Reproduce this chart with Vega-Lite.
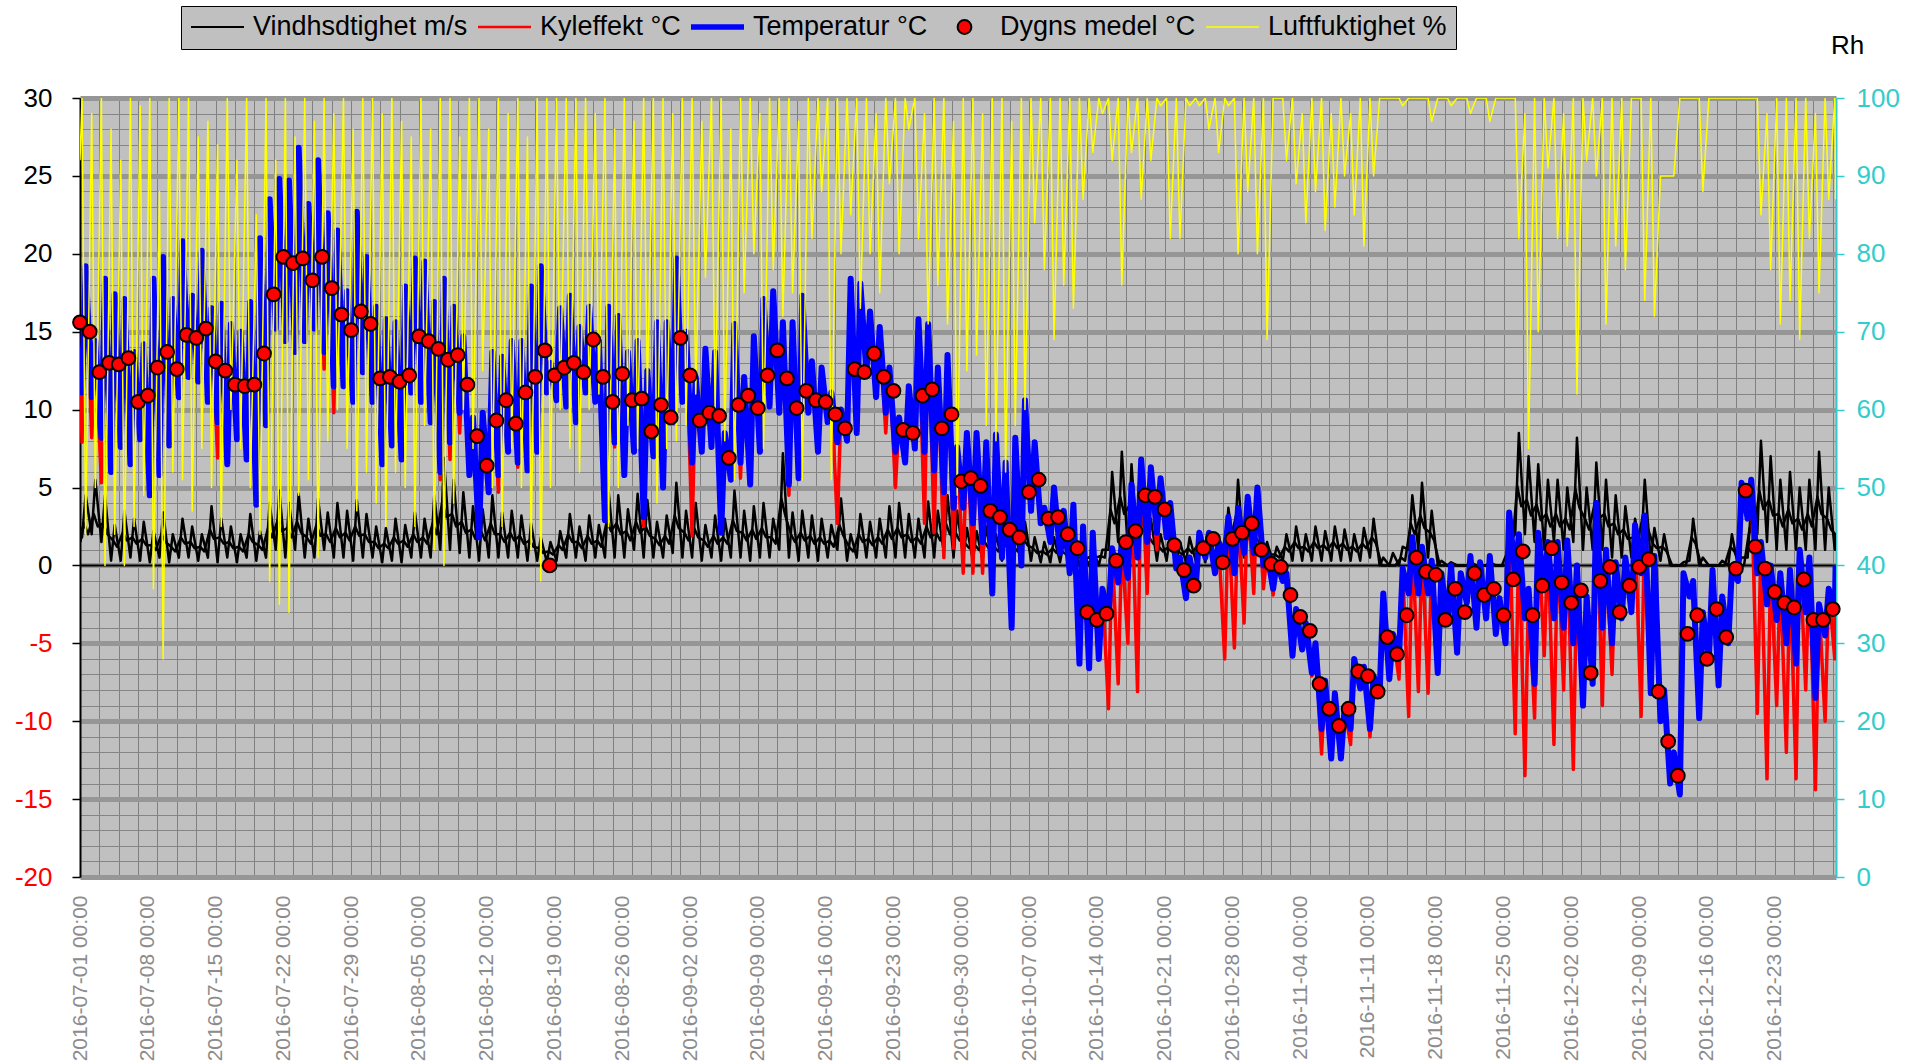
{
"$schema":"https://vega.github.io/schema/vega-lite/v6.json",
"width":1756,"height":779,
"autosize":{"type":"none"},
"padding":{"left":80,"top":98,"right":87,"bottom":186},
"background":"#ffffff",
"config":{"view":{"fill":"#C0C0C0","stroke":null},"font":"Liberation Sans",
"axis":{"labelFont":"Liberation Sans","titleFont":"Liberation Sans"},
"legend":{"direction":"horizontal","columns":5,"fillColor":"#C0C0C0","strokeColor":"#000000","padding":9,"clipHeight":24,"labelFont":"Liberation Sans","labelFontSize":27,"labelColor":"#000000","labelOffset":8,"columnPadding":9,"symbolSize":2809,"symbolStrokeWidth":2,"symbolOpacity":1,"labelLimit":0}},
"datasets":{
"m":[
{"t":"2016070100","T":14,"K":14,"W":2.5,"H":92,"u":"2016070101","V":1.5},
{"t":"2016070105","T":11.1,"K":7.9,"W":1.8,"H":100,"u":"2016070110","V":2.7},{"t":"2016070114","T":19.2,"K":19.2,"W":4.5,"H":44,"u":"2016070120","V":2},
{"t":"2016070205","T":10.8,"K":8.2,"W":2,"H":98,"u":"2016070210","V":3.3},{"t":"2016070214","T":14.4,"K":14.4,"W":5.5,"H":50,"u":"2016070220","V":2.5},
{"t":"2016070305","T":8.2,"K":5.3,"W":1.5,"H":100,"u":"2016070310","V":2.7},{"t":"2016070314","T":18.4,"K":18.4,"W":4.5,"H":40,"u":"2016070320","V":2},
{"t":"2016070405","T":6,"K":6,"W":0.3,"H":96,"u":"2016070410","V":1.6},{"t":"2016070414","T":17.4,"K":17.4,"W":2.6,"H":44,"u":"2016070420","V":1.2},
{"t":"2016070505","T":7.6,"K":7.6,"W":0.3,"H":92,"u":"2016070510","V":2.1},{"t":"2016070514","T":17.1,"K":17.1,"W":3.5,"H":40,"u":"2016070520","V":1.6},
{"t":"2016070605","T":6.5,"K":6.5,"W":0.5,"H":100,"u":"2016070610","V":1.8},{"t":"2016070614","T":13.7,"K":13.7,"W":3,"H":45,"u":"2016070620","V":1.4},
{"t":"2016070705","T":8.1,"K":8.1,"W":0.3,"H":99,"u":"2016070710","V":1.7},{"t":"2016070714","T":14.2,"K":14.2,"W":2.8,"H":49,"u":"2016070720","V":1.3},
{"t":"2016070805","T":4.5,"K":4.5,"W":0.2,"H":100,"u":"2016070810","V":1.3},{"t":"2016070814","T":18.4,"K":18.4,"W":2.2,"H":37,"u":"2016070820","V":1},
{"t":"2016070905","T":5.8,"K":5.8,"W":0.5,"H":88,"u":"2016070910","V":2},{"t":"2016070914","T":19.8,"K":19.8,"W":3.4,"H":28,"u":"2016070920","V":1.5},
{"t":"2016071005","T":7.7,"K":7.7,"W":0.2,"H":100,"u":"2016071010","V":1.2},{"t":"2016071014","T":17.1,"K":17.1,"W":2,"H":52,"u":"2016071020","V":0.9},
{"t":"2016071105","T":10.8,"K":10.8,"W":0.5,"H":100,"u":"2016071110","V":1.8},{"t":"2016071114","T":20.8,"K":20.8,"W":3,"H":51,"u":"2016071120","V":1.4},
{"t":"2016071205","T":12.1,"K":12.1,"W":0.5,"H":100,"u":"2016071210","V":1.5},{"t":"2016071214","T":17.3,"K":17.3,"W":2.5,"H":47,"u":"2016071220","V":1.1},
{"t":"2016071305","T":11.8,"K":11.8,"W":0.3,"H":95,"u":"2016071310","V":1.2},{"t":"2016071314","T":20.2,"K":20.2,"W":2,"H":55,"u":"2016071320","V":0.9},
{"t":"2016071405","T":10.5,"K":10.5,"W":0.5,"H":97,"u":"2016071410","V":2.3},{"t":"2016071414","T":16.5,"K":16.5,"W":3.8,"H":50,"u":"2016071420","V":1.7},
{"t":"2016071505","T":9.2,"K":6.9,"W":0.2,"H":94,"u":"2016071510","V":1.8},{"t":"2016071514","T":16.8,"K":16.8,"W":3,"H":45,"u":"2016071520","V":1.4},
{"t":"2016071605","T":6.5,"K":6.5,"W":0.5,"H":100,"u":"2016071610","V":1.5},{"t":"2016071614","T":15.5,"K":15.5,"W":2.5,"H":60,"u":"2016071620","V":1.1},
{"t":"2016071705","T":8.1,"K":8.1,"W":0.2,"H":92,"u":"2016071710","V":1.2},{"t":"2016071714","T":15,"K":15,"W":2,"H":55,"u":"2016071720","V":0.9},
{"t":"2016071805","T":6.8,"K":6.8,"W":0.5,"H":100,"u":"2016071810","V":2},{"t":"2016071814","T":16.9,"K":16.9,"W":3.3,"H":50,"u":"2016071820","V":1.5},
{"t":"2016071905","T":3.9,"K":3.9,"W":0.3,"H":85,"u":"2016071910","V":1.3},{"t":"2016071914","T":21,"K":21,"W":2.2,"H":44,"u":"2016071920","V":1},
{"t":"2016072005","T":9,"K":9,"W":0.5,"H":100,"u":"2016072010","V":2.4},{"t":"2016072014","T":23.5,"K":23.5,"W":4,"H":38,"u":"2016072020","V":1.8},
{"t":"2016072105","T":15.2,"K":15.2,"W":1,"H":92,"u":"2016072110","V":2.9},{"t":"2016072114","T":24.8,"K":24.8,"W":4.8,"H":35,"u":"2016072120","V":2.2},
{"t":"2016072205","T":14.4,"K":14.4,"W":0.5,"H":100,"u":"2016072210","V":2.4},{"t":"2016072214","T":24.7,"K":24.7,"W":4,"H":34,"u":"2016072220","V":1.8},
{"t":"2016072305","T":13.7,"K":13.7,"W":1,"H":95,"u":"2016072310","V":2.8},{"t":"2016072314","T":26.8,"K":26.8,"W":4.6,"H":49,"u":"2016072320","V":2.1},
{"t":"2016072405","T":14.4,"K":14.4,"W":0.5,"H":100,"u":"2016072410","V":1.8},{"t":"2016072414","T":23.2,"K":23.2,"W":3,"H":51,"u":"2016072420","V":1.4},
{"t":"2016072505","T":15.2,"K":15.2,"W":0.5,"H":97,"u":"2016072510","V":2.6},{"t":"2016072514","T":26,"K":26,"W":4.3,"H":41,"u":"2016072520","V":1.9},
{"t":"2016072605","T":13.7,"K":12.6,"W":1,"H":100,"u":"2016072610","V":2},{"t":"2016072614","T":22.6,"K":22.6,"W":3.4,"H":56,"u":"2016072620","V":1.5},
{"t":"2016072705","T":11.5,"K":9.8,"W":0.5,"H":98,"u":"2016072710","V":2.4},{"t":"2016072714","T":21.5,"K":21.5,"W":4,"H":60,"u":"2016072720","V":1.8},
{"t":"2016072805","T":11.5,"K":11.5,"W":0.5,"H":100,"u":"2016072810","V":2.1},{"t":"2016072814","T":17.6,"K":17.6,"W":3.5,"H":55,"u":"2016072820","V":1.6},
{"t":"2016072905","T":10.5,"K":10.5,"W":0.3,"H":96,"u":"2016072910","V":2.5},{"t":"2016072914","T":22.7,"K":22.7,"W":4.2,"H":47,"u":"2016072920","V":1.9},
{"t":"2016073005","T":12.4,"K":12.4,"W":0.5,"H":100,"u":"2016073010","V":2},{"t":"2016073014","T":19.8,"K":19.8,"W":3.3,"H":52,"u":"2016073020","V":1.5},
{"t":"2016073105","T":10.5,"K":10.5,"W":0.5,"H":100,"u":"2016073110","V":1.5},{"t":"2016073114","T":16.6,"K":16.6,"W":2.5,"H":48,"u":"2016073120","V":1.1},
{"t":"2016080105","T":6.5,"K":6.5,"W":0.2,"H":98,"u":"2016080110","V":1.4},{"t":"2016080114","T":15.8,"K":15.8,"W":2.4,"H":45,"u":"2016080120","V":1.1},
{"t":"2016080205","T":7.7,"K":7.7,"W":0.3,"H":100,"u":"2016080210","V":1.8},{"t":"2016080214","T":15.6,"K":15.6,"W":3,"H":52,"u":"2016080220","V":1.4},
{"t":"2016080305","T":6.8,"K":6.8,"W":0.2,"H":97,"u":"2016080310","V":1.6},{"t":"2016080314","T":17.9,"K":17.9,"W":2.6,"H":50,"u":"2016080320","V":1.2},
{"t":"2016080405","T":11.1,"K":11.1,"W":0.5,"H":95,"u":"2016080410","V":2},{"t":"2016080414","T":19.7,"K":19.7,"W":3.4,"H":45,"u":"2016080420","V":1.5},
{"t":"2016080505","T":10.5,"K":10.5,"W":0.5,"H":100,"u":"2016080510","V":1.8},{"t":"2016080514","T":19.5,"K":19.5,"W":3,"H":58,"u":"2016080520","V":1.4},
{"t":"2016080605","T":9.2,"K":9.2,"W":0.5,"H":96,"u":"2016080610","V":2.7},{"t":"2016080614","T":16.9,"K":16.9,"W":4.5,"H":42,"u":"2016080620","V":2},
{"t":"2016080705","T":6,"K":5.5,"W":1,"H":100,"u":"2016080710","V":4.1},{"t":"2016080714","T":18.4,"K":18.4,"W":6.9,"H":40,"u":"2016080720","V":3.1},
{"t":"2016080805","T":7.9,"K":6.8,"W":1,"H":100,"u":"2016080810","V":3.3},{"t":"2016080814","T":16.6,"K":16.6,"W":5.5,"H":48,"u":"2016080820","V":2.5},
{"t":"2016080905","T":9.8,"K":8.5,"W":0.8,"H":95,"u":"2016080910","V":2.8},{"t":"2016080914","T":14.7,"K":14.7,"W":4.7,"H":60,"u":"2016080920","V":2.1},
{"t":"2016081005","T":5.8,"K":5.8,"W":0.5,"H":100,"u":"2016081010","V":2.3},{"t":"2016081014","T":9.5,"K":9.5,"W":3.8,"H":55,"u":"2016081020","V":1.7},
{"t":"2016081105","T":1.8,"K":1.8,"W":0.3,"H":100,"u":"2016081110","V":2.2},{"t":"2016081114","T":9.8,"K":9.8,"W":3.6,"H":65,"u":"2016081120","V":1.6},
{"t":"2016081205","T":4.7,"K":4.7,"W":0.5,"H":96,"u":"2016081210","V":2.7},{"t":"2016081214","T":13.7,"K":13.7,"W":4.5,"H":50,"u":"2016081220","V":2},
{"t":"2016081305","T":5.8,"K":4.7,"W":0.5,"H":100,"u":"2016081310","V":2},{"t":"2016081314","T":13.4,"K":13.4,"W":3.4,"H":45,"u":"2016081320","V":1.5},
{"t":"2016081405","T":7.3,"K":7.3,"W":0.5,"H":98,"u":"2016081410","V":2.1},{"t":"2016081414","T":14.4,"K":14.4,"W":3.5,"H":55,"u":"2016081420","V":1.6},
{"t":"2016081505","T":6.6,"K":6.3,"W":0.5,"H":100,"u":"2016081510","V":1.9},{"t":"2016081514","T":14.4,"K":14.4,"W":3.2,"H":50,"u":"2016081520","V":1.4},
{"t":"2016081605","T":6.1,"K":6.1,"W":0.3,"H":95,"u":"2016081610","V":1.6},{"t":"2016081614","T":17.9,"K":17.9,"W":2.7,"H":42,"u":"2016081620","V":1.2},
{"t":"2016081705","T":7.3,"K":7.3,"W":0.3,"H":100,"u":"2016081710","V":1.1},{"t":"2016081714","T":19.2,"K":19.2,"W":1.8,"H":38,"u":"2016081720","V":0.8},
{"t":"2016081805","T":11.1,"K":11.1,"W":0.2,"H":100,"u":"2016081810","V":0.9},{"t":"2016081814","T":13,"K":13,"W":1.5,"H":50,"u":"2016081820","V":0.7},
{"t":"2016081905","T":10.6,"K":10.6,"W":0.3,"H":100,"u":"2016081910","V":1.3},{"t":"2016081914","T":16.5,"K":16.5,"W":2.2,"H":60,"u":"2016081920","V":1},
{"t":"2016082005","T":10.2,"K":10.2,"W":0.5,"H":100,"u":"2016082010","V":2},{"t":"2016082014","T":17.3,"K":17.3,"W":3.3,"H":55,"u":"2016082020","V":1.5},
{"t":"2016082105","T":9.2,"K":9.2,"W":0.5,"H":100,"u":"2016082110","V":1.5},{"t":"2016082114","T":15.3,"K":15.3,"W":2.5,"H":52,"u":"2016082120","V":1.1},
{"t":"2016082205","T":11.1,"K":11.1,"W":0.3,"H":100,"u":"2016082210","V":1.9},{"t":"2016082214","T":16.6,"K":16.6,"W":3.2,"H":60,"u":"2016082220","V":1.4},
{"t":"2016082305","T":10.5,"K":10.5,"W":0.5,"H":98,"u":"2016082310","V":1.6},{"t":"2016082314","T":14.4,"K":14.4,"W":2.6,"H":62,"u":"2016082320","V":1.2},
{"t":"2016082405","T":2.9,"K":2.9,"W":0.5,"H":100,"u":"2016082410","V":2.9},{"t":"2016082414","T":16.6,"K":16.6,"W":4.8,"H":45,"u":"2016082420","V":2.2},
{"t":"2016082505","T":7.9,"K":7.6,"W":0.5,"H":96,"u":"2016082510","V":2.7},{"t":"2016082514","T":16,"K":16,"W":4.5,"H":50,"u":"2016082520","V":2},
{"t":"2016082605","T":5.8,"K":5.8,"W":0.5,"H":100,"u":"2016082610","V":2.2},{"t":"2016082614","T":13.7,"K":13.7,"W":3.6,"H":58,"u":"2016082620","V":1.6},
{"t":"2016082705","T":7.3,"K":7.3,"W":1,"H":97,"u":"2016082710","V":2.8},{"t":"2016082714","T":14.4,"K":14.4,"W":4.6,"H":55,"u":"2016082720","V":2.1},
{"t":"2016082805","T":3.1,"K":2.5,"W":0.5,"H":100,"u":"2016082810","V":2.5},{"t":"2016082814","T":12.5,"K":12.5,"W":4.2,"H":62,"u":"2016082820","V":1.9},
{"t":"2016082905","T":7,"K":7,"W":0.5,"H":100,"u":"2016082910","V":1.7},{"t":"2016082914","T":15.6,"K":15.6,"W":2.8,"H":48,"u":"2016082920","V":1.3},
{"t":"2016083005","T":5,"K":5,"W":0.5,"H":100,"u":"2016083010","V":1.9},{"t":"2016083014","T":15.6,"K":15.6,"W":3.2,"H":55,"u":"2016083020","V":1.4},
{"t":"2016083105","T":9.2,"K":9.2,"W":0.8,"H":98,"u":"2016083110","V":3.2},{"t":"2016083114","T":19.7,"K":19.7,"W":5.3,"H":56,"u":"2016083120","V":2.4},
{"t":"2016090105","T":10.5,"K":10.5,"W":0.5,"H":100,"u":"2016090110","V":2.1},{"t":"2016090114","T":15,"K":15,"W":3.5,"H":58,"u":"2016090120","V":1.6},
{"t":"2016090205","T":6.6,"K":1.9,"W":0.5,"H":100,"u":"2016090210","V":2.4},{"t":"2016090214","T":12.1,"K":12.1,"W":4,"H":62,"u":"2016090220","V":1.8},
{"t":"2016090305","T":7.3,"K":7.3,"W":0.3,"H":97,"u":"2016090310","V":1.6},{"t":"2016090314","T":13.9,"K":13.9,"W":2.6,"H":77,"u":"2016090320","V":1.2},
{"t":"2016090405","T":7.6,"K":7.6,"W":0.5,"H":100,"u":"2016090410","V":1.9},{"t":"2016090414","T":13.7,"K":13.7,"W":3.2,"H":60,"u":"2016090420","V":1.4},
{"t":"2016090505","T":2.1,"K":2.1,"W":0.3,"H":100,"u":"2016090510","V":1.8},{"t":"2016090514","T":8.5,"K":8.5,"W":3,"H":56,"u":"2016090520","V":1.4},
{"t":"2016090605","T":5.5,"K":5.5,"W":0.5,"H":96,"u":"2016090610","V":2.9},{"t":"2016090614","T":15.5,"K":15.5,"W":4.8,"H":51,"u":"2016090620","V":2.2},
{"t":"2016090705","T":6.6,"K":5.6,"W":0.5,"H":100,"u":"2016090710","V":2.1},{"t":"2016090714","T":12.1,"K":12.1,"W":3.5,"H":75,"u":"2016090720","V":1.6},
{"t":"2016090805","T":5.2,"K":5.2,"W":0.3,"H":100,"u":"2016090810","V":2.3},{"t":"2016090814","T":14.7,"K":14.7,"W":3.8,"H":80,"u":"2016090820","V":1.7},
{"t":"2016090905","T":7.3,"K":7.3,"W":0.5,"H":98,"u":"2016090910","V":2.4},{"t":"2016090914","T":17.1,"K":17.1,"W":4,"H":55,"u":"2016090920","V":1.8},
{"t":"2016091005","T":10.2,"K":10.2,"W":0.5,"H":100,"u":"2016091010","V":1.8},{"t":"2016091014","T":17.6,"K":17.6,"W":3,"H":78,"u":"2016091020","V":1.4},
{"t":"2016091105","T":9.8,"K":9.8,"W":1,"H":100,"u":"2016091110","V":4.3},{"t":"2016091114","T":15.6,"K":15.6,"W":7.2,"H":72,"u":"2016091120","V":3.2},
{"t":"2016091205","T":5.2,"K":4.5,"W":0.5,"H":100,"u":"2016091210","V":2},{"t":"2016091214","T":15.6,"K":15.6,"W":3.4,"H":75,"u":"2016091220","V":1.5},
{"t":"2016091305","T":5.6,"K":5.6,"W":0.3,"H":97,"u":"2016091310","V":2.1},{"t":"2016091314","T":17.3,"K":17.3,"W":3.5,"H":51,"u":"2016091320","V":1.6},
{"t":"2016091405","T":9.8,"K":9.8,"W":0.5,"H":100,"u":"2016091410","V":1.9},{"t":"2016091414","T":13.1,"K":13.1,"W":3.2,"H":82,"u":"2016091420","V":1.4},
{"t":"2016091505","T":7.3,"K":7.3,"W":0.3,"H":100,"u":"2016091510","V":1.8},{"t":"2016091514","T":12.7,"K":12.7,"W":3,"H":88,"u":"2016091520","V":1.4},
{"t":"2016091605","T":9.2,"K":9.2,"W":0.5,"H":100,"u":"2016091610","V":1.6},{"t":"2016091614","T":11.1,"K":11.1,"W":2.6,"H":51,"u":"2016091620","V":1.2},
{"t":"2016091705","T":7.9,"K":2.7,"W":1,"H":100,"u":"2016091710","V":2.6},{"t":"2016091714","T":10,"K":10,"W":4.3,"H":80,"u":"2016091720","V":1.9},
{"t":"2016091805","T":8,"K":8,"W":0.3,"H":100,"u":"2016091810","V":1.2},{"t":"2016091814","T":18.4,"K":18.4,"W":2,"H":85,"u":"2016091820","V":0.9},
{"t":"2016091905","T":8.5,"K":8.5,"W":0.5,"H":100,"u":"2016091910","V":2},{"t":"2016091914","T":18.1,"K":18.1,"W":3.3,"H":73,"u":"2016091920","V":1.5},
{"t":"2016092005","T":12.4,"K":12.4,"W":0.5,"H":100,"u":"2016092010","V":1.7},{"t":"2016092014","T":16.3,"K":16.3,"W":2.8,"H":80,"u":"2016092020","V":1.3},
{"t":"2016092105","T":10.8,"K":10.8,"W":0.5,"H":98,"u":"2016092110","V":1.8},{"t":"2016092114","T":15.3,"K":15.3,"W":3,"H":75,"u":"2016092120","V":1.4},
{"t":"2016092205","T":9.8,"K":8.5,"W":0.5,"H":100,"u":"2016092210","V":2.3},{"t":"2016092214","T":12.7,"K":12.7,"W":3.8,"H":89,"u":"2016092220","V":1.7},
{"t":"2016092305","T":7.3,"K":5,"W":0.5,"H":100,"u":"2016092310","V":2.4},{"t":"2016092314","T":9.5,"K":9.5,"W":4,"H":80,"u":"2016092320","V":1.8},
{"t":"2016092405","T":6.6,"K":6.6,"W":0.5,"H":100,"u":"2016092410","V":2},{"t":"2016092414","T":11.5,"K":11.5,"W":3.3,"H":96,"u":"2016092420","V":1.5},
{"t":"2016092505","T":7.5,"K":7.5,"W":0.5,"H":100,"u":"2016092510","V":1.8},{"t":"2016092514","T":15.8,"K":15.8,"W":3,"H":82,"u":"2016092520","V":1.4},
{"t":"2016092605","T":7.3,"K":2.7,"W":0.5,"H":98,"u":"2016092610","V":2.5},{"t":"2016092614","T":15.5,"K":15.5,"W":4.1,"H":71,"u":"2016092620","V":1.8},
{"t":"2016092705","T":6.1,"K":2.1,"W":0.5,"H":100,"u":"2016092710","V":2.1},{"t":"2016092714","T":12.7,"K":12.7,"W":3.5,"H":76,"u":"2016092720","V":1.6},
{"t":"2016092805","T":4.7,"K":0.5,"W":0.8,"H":100,"u":"2016092810","V":2.7},{"t":"2016092814","T":13.5,"K":13.5,"W":4.5,"H":71,"u":"2016092820","V":2},
{"t":"2016092905","T":3.7,"K":1.1,"W":0.5,"H":97,"u":"2016092910","V":2.1},{"t":"2016092914","T":7.6,"K":7.6,"W":3.5,"H":49,"u":"2016092920","V":1.6},
{"t":"2016093005","T":3.7,"K":-0.5,"W":0.5,"H":100,"u":"2016093010","V":1.4},{"t":"2016093014","T":8.5,"K":8.5,"W":2.4,"H":65,"u":"2016093020","V":1.1},
{"t":"2016100105","T":2.7,"K":-0.5,"W":0.3,"H":100,"u":"2016100110","V":1.3},{"t":"2016100114","T":8.5,"K":8.5,"W":2.2,"H":67,"u":"2016100120","V":1},
{"t":"2016100205","T":1.5,"K":-0.5,"W":0.3,"H":98,"u":"2016100210","V":1.5},{"t":"2016100214","T":7.9,"K":7.9,"W":2.5,"H":58,"u":"2016100220","V":1.1},
{"t":"2016100305","T":-1.8,"K":-1.8,"W":0.3,"H":100,"u":"2016100310","V":1.2},{"t":"2016100314","T":8.4,"K":8.4,"W":2,"H":56,"u":"2016100320","V":0.9},
{"t":"2016100405","T":0.5,"K":0.5,"W":0.3,"H":100,"u":"2016100410","V":1.4},{"t":"2016100414","T":6.6,"K":6.6,"W":2.4,"H":52,"u":"2016100420","V":1.1},
{"t":"2016100505","T":-4,"K":-4,"W":0.2,"H":97,"u":"2016100510","V":1.2},{"t":"2016100514","T":8.2,"K":8.2,"W":2,"H":58,"u":"2016100520","V":0.9},
{"t":"2016100605","T":0,"K":0,"W":0.3,"H":100,"u":"2016100610","V":1.7},{"t":"2016100614","T":10.6,"K":10.6,"W":2.8,"H":60,"u":"2016100620","V":1.3},
{"t":"2016100705","T":3.5,"K":3.5,"W":0.3,"H":100,"u":"2016100710","V":1.1},{"t":"2016100714","T":7.9,"K":7.9,"W":1.8,"H":84,"u":"2016100720","V":0.8},
{"t":"2016100805","T":2.7,"K":2.7,"W":0.2,"H":100,"u":"2016100810","V":0.9},{"t":"2016100814","T":3.7,"K":3.7,"W":1.5,"H":78,"u":"2016100820","V":0.7},
{"t":"2016100905","T":1.5,"K":1.5,"W":0.2,"H":100,"u":"2016100910","V":1.1},{"t":"2016100914","T":5,"K":5,"W":1.8,"H":69,"u":"2016100920","V":0.8},
{"t":"2016101005","T":0.8,"K":0.8,"W":0.2,"H":100,"u":"2016101010","V":0.9},{"t":"2016101014","T":3.5,"K":3.5,"W":1.5,"H":76,"u":"2016101020","V":0.7},
{"t":"2016101105","T":-0.5,"K":-0.5,"W":0.2,"H":100,"u":"2016101110","V":0.7},{"t":"2016101114","T":3.9,"K":3.9,"W":1.2,"H":73,"u":"2016101120","V":0.5},
{"t":"2016101205","T":-6.3,"K":-6.3,"W":0,"H":100,"u":"2016101210","V":0.5},{"t":"2016101214","T":2.5,"K":2.5,"W":0.8,"H":87,"u":"2016101220","V":0.4},
{"t":"2016101305","T":-6.6,"K":-6.6,"W":0,"H":100,"u":"2016101310","V":0.6},{"t":"2016101314","T":2.1,"K":2.1,"W":1,"H":93,"u":"2016101320","V":0.5},
{"t":"2016101405","T":-6,"K":-6,"W":0,"H":100,"u":"2016101410","V":0.6},{"t":"2016101414","T":-1.5,"K":-1.5,"W":1,"H":98,"u":"2016101420","V":0.5},
{"t":"2016101505","T":-3.3,"K":-9.2,"W":1,"H":100,"u":"2016101510","V":3.6},{"t":"2016101514","T":1.1,"K":1.1,"W":6,"H":92,"u":"2016101520","V":2.7},
{"t":"2016101605","T":-1.1,"K":-7.6,"W":1.5,"H":100,"u":"2016101610","V":4.4},{"t":"2016101614","T":1.5,"K":1.5,"W":7.3,"H":76,"u":"2016101620","V":3.3},
{"t":"2016101705","T":-0.8,"K":-5,"W":1,"H":100,"u":"2016101710","V":3.9},{"t":"2016101714","T":5.2,"K":5.2,"W":6.5,"H":93,"u":"2016101720","V":2.9},
{"t":"2016101805","T":0.5,"K":-8.1,"W":1,"H":100,"u":"2016101810","V":3.3},{"t":"2016101814","T":6.8,"K":6.8,"W":5.5,"H":87,"u":"2016101820","V":2.5},
{"t":"2016101905","T":1.5,"K":-1.8,"W":0.5,"H":100,"u":"2016101910","V":1.8},{"t":"2016101914","T":6.3,"K":6.3,"W":3,"H":92,"u":"2016101920","V":1.4},
{"t":"2016102005","T":2.1,"K":1,"W":0.3,"H":100,"u":"2016102010","V":1.2},{"t":"2016102014","T":5.6,"K":5.6,"W":2,"H":99,"u":"2016102020","V":0.9},
{"t":"2016102105","T":1.8,"K":1.8,"W":0.3,"H":100,"u":"2016102110","V":1.2},{"t":"2016102114","T":4,"K":4,"W":2,"H":82,"u":"2016102120","V":0.9},
{"t":"2016102205","T":-0.2,"K":-0.2,"W":0.2,"H":100,"u":"2016102210","V":0.9},{"t":"2016102214","T":0.5,"K":0.5,"W":1.5,"H":82,"u":"2016102220","V":0.7},
{"t":"2016102305","T":-2.1,"K":-2.1,"W":0.2,"H":100,"u":"2016102310","V":1.1},{"t":"2016102314","T":0.5,"K":0.5,"W":1.8,"H":99,"u":"2016102320","V":0.8},
{"t":"2016102405","T":-1.5,"K":-1.5,"W":0.3,"H":100,"u":"2016102410","V":1.3},{"t":"2016102414","T":2.1,"K":2.1,"W":2.2,"H":99,"u":"2016102420","V":1},
{"t":"2016102505","T":0.5,"K":0.5,"W":0.2,"H":100,"u":"2016102510","V":1.1},{"t":"2016102514","T":2.1,"K":2.1,"W":1.8,"H":96,"u":"2016102520","V":0.8},
{"t":"2016102605","T":-0.5,"K":-0.5,"W":0.2,"H":100,"u":"2016102610","V":0.9},{"t":"2016102614","T":1.5,"K":1.5,"W":1.5,"H":93,"u":"2016102620","V":0.7},
{"t":"2016102705","T":0.5,"K":-6,"W":0.5,"H":100,"u":"2016102710","V":2.2},{"t":"2016102714","T":3.1,"K":3.1,"W":3.7,"H":99,"u":"2016102720","V":1.7},
{"t":"2016102805","T":-0.5,"K":-5.3,"W":1,"H":100,"u":"2016102810","V":3.3},{"t":"2016102814","T":3.7,"K":3.7,"W":5.5,"H":80,"u":"2016102820","V":2.5},
{"t":"2016102905","T":0.8,"K":-3.7,"W":0.5,"H":100,"u":"2016102910","V":2.1},{"t":"2016102914","T":4.4,"K":4.4,"W":3.5,"H":88,"u":"2016102920","V":1.6},
{"t":"2016103005","T":0.8,"K":-1.8,"W":0.5,"H":100,"u":"2016103010","V":1.8},{"t":"2016103014","T":5,"K":5,"W":3,"H":80,"u":"2016103020","V":1.4},
{"t":"2016103105","T":0,"K":-1.5,"W":0.5,"H":100,"u":"2016103110","V":0.9},{"t":"2016103114","T":0.8,"K":0.8,"W":1.5,"H":69,"u":"2016103120","V":0.7},
{"t":"2016110105","T":-1.5,"K":-1.9,"W":0.2,"H":100,"u":"2016110110","V":0.7},{"t":"2016110114","T":0.2,"K":0.2,"W":1.2,"H":100,"u":"2016110120","V":0.5},
{"t":"2016110205","T":-1,"K":-1,"W":0.3,"H":100,"u":"2016110210","V":1.2},{"t":"2016110214","T":-0.5,"K":-0.5,"W":2,"H":92,"u":"2016110220","V":0.9},
{"t":"2016110305","T":-5.8,"K":-5.8,"W":0.3,"H":100,"u":"2016110310","V":1.5},{"t":"2016110314","T":-2.8,"K":-2.8,"W":2.5,"H":89,"u":"2016110320","V":1.1},
{"t":"2016110405","T":-5.4,"K":-5.4,"W":0.3,"H":98,"u":"2016110410","V":1.2},{"t":"2016110414","T":-3.7,"K":-3.7,"W":2,"H":84,"u":"2016110420","V":0.9},
{"t":"2016110505","T":-6.9,"K":-7.1,"W":0.3,"H":100,"u":"2016110510","V":1.5},{"t":"2016110514","T":-5,"K":-5,"W":2.5,"H":88,"u":"2016110520","V":1.1},
{"t":"2016110605","T":-10.5,"K":-12.1,"W":0.3,"H":100,"u":"2016110610","V":1.3},{"t":"2016110614","T":-7.4,"K":-7.4,"W":2.2,"H":83,"u":"2016110620","V":1},
{"t":"2016110705","T":-12.4,"K":-12.4,"W":0.3,"H":98,"u":"2016110710","V":1.5},{"t":"2016110714","T":-8.2,"K":-8.2,"W":2.5,"H":86,"u":"2016110720","V":1.1},
{"t":"2016110805","T":-12.4,"K":-12.4,"W":0.3,"H":100,"u":"2016110810","V":1.4},{"t":"2016110814","T":-9.2,"K":-9.2,"W":2.3,"H":90,"u":"2016110820","V":1},
{"t":"2016110905","T":-10.5,"K":-11.5,"W":0.3,"H":98,"u":"2016110910","V":1.2},{"t":"2016110914","T":-6,"K":-6,"W":2,"H":85,"u":"2016110920","V":0.9},
{"t":"2016111005","T":-7.9,"K":-7.9,"W":0.3,"H":100,"u":"2016111010","V":1.4},{"t":"2016111014","T":-6.5,"K":-6.5,"W":2.4,"H":81,"u":"2016111020","V":1.1},
{"t":"2016111105","T":-10.5,"K":-11,"W":0.5,"H":100,"u":"2016111110","V":1.8},{"t":"2016111114","T":-7.1,"K":-7.1,"W":3,"H":90,"u":"2016111120","V":1.4},
{"t":"2016111205","T":-8.2,"K":-8.2,"W":0,"H":100,"u":"2016111210","V":0},{"t":"2016111214","T":-1.8,"K":-1.8,"W":0.5,"H":100,"u":"2016111220","V":0},
{"t":"2016111305","T":-7.3,"K":-7.3,"W":0,"H":100,"u":"2016111310","V":0},{"t":"2016111314","T":-4.4,"K":-4.4,"W":0.8,"H":100,"u":"2016111320","V":0},
{"t":"2016111405","T":-5.8,"K":-7.3,"W":0,"H":100,"u":"2016111410","V":0.5},{"t":"2016111414","T":-0.2,"K":-0.2,"W":1.2,"H":99,"u":"2016111420","V":0.3},
{"t":"2016111505","T":-1.8,"K":-9.7,"W":1,"H":100,"u":"2016111510","V":2.7},{"t":"2016111514","T":1.8,"K":1.8,"W":4.5,"H":100,"u":"2016111520","V":2},
{"t":"2016111605","T":-1.8,"K":-8.1,"W":1,"H":100,"u":"2016111610","V":3.2},{"t":"2016111614","T":1.2,"K":1.2,"W":5.3,"H":100,"u":"2016111620","V":2.4},
{"t":"2016111705","T":-1.8,"K":-8.2,"W":0.5,"H":100,"u":"2016111710","V":2.1},{"t":"2016111714","T":0.3,"K":0.3,"W":3.5,"H":97,"u":"2016111720","V":1.6},
{"t":"2016111805","T":-6.9,"K":-6.9,"W":0,"H":100,"u":"2016111810","V":0},{"t":"2016111814","T":-0.5,"K":-0.5,"W":0.3,"H":100,"u":"2016111820","V":0},
{"t":"2016111905","T":-3.7,"K":-3.7,"W":0,"H":100,"u":"2016111910","V":0},{"t":"2016111914","T":0,"K":0,"W":0.2,"H":99,"u":"2016111920","V":0},
{"t":"2016112005","T":-5.6,"K":-5.6,"W":0,"H":100,"u":"2016112010","V":0},{"t":"2016112014","T":-0.5,"K":-0.5,"W":0,"H":100,"u":"2016112020","V":0},
{"t":"2016112105","T":-2.4,"K":-2.4,"W":0,"H":100,"u":"2016112110","V":0},{"t":"2016112114","T":0.6,"K":0.6,"W":0.2,"H":98,"u":"2016112120","V":0},
{"t":"2016112205","T":-4,"K":-4,"W":0,"H":100,"u":"2016112210","V":0},{"t":"2016112214","T":0.2,"K":0.2,"W":0,"H":100,"u":"2016112220","V":0},
{"t":"2016112305","T":-3.4,"K":-3.4,"W":0,"H":100,"u":"2016112310","V":0},{"t":"2016112314","T":0.6,"K":0.6,"W":0.2,"H":97,"u":"2016112320","V":0},
{"t":"2016112405","T":-4.4,"K":-4.4,"W":0,"H":100,"u":"2016112410","V":0},{"t":"2016112414","T":-2.1,"K":-2.1,"W":0,"H":100,"u":"2016112420","V":0},
{"t":"2016112505","T":-5,"K":-5,"W":0,"H":100,"u":"2016112510","V":0.9},{"t":"2016112514","T":3.4,"K":3.4,"W":1.5,"H":100,"u":"2016112520","V":0.7},
{"t":"2016112605","T":-0.6,"K":-10.8,"W":2,"H":100,"u":"2016112610","V":5.1},{"t":"2016112614","T":2,"K":2,"W":8.5,"H":82,"u":"2016112620","V":3.8},
{"t":"2016112705","T":-3.4,"K":-13.5,"W":2,"H":98,"u":"2016112710","V":4.2},{"t":"2016112714","T":-1.5,"K":-1.5,"W":7,"H":55,"u":"2016112720","V":3.2},
{"t":"2016112805","T":-7.6,"K":-9.8,"W":1.5,"H":100,"u":"2016112810","V":3.9},{"t":"2016112814","T":2.1,"K":2.1,"W":6.5,"H":70,"u":"2016112820","V":2.9},
{"t":"2016112905","T":-1.5,"K":-5.8,"W":1,"H":100,"u":"2016112910","V":3.3},{"t":"2016112914","T":1.5,"K":1.5,"W":5.5,"H":91,"u":"2016112920","V":2.5},
{"t":"2016113005","T":-3.4,"K":-11.5,"W":1.5,"H":100,"u":"2016113010","V":3.3},{"t":"2016113014","T":1.5,"K":1.5,"W":5.5,"H":82,"u":"2016113020","V":2.5},
{"t":"2016120105","T":-4,"K":-8,"W":1,"H":98,"u":"2016120110","V":3},{"t":"2016120114","T":1.6,"K":1.6,"W":5,"H":81,"u":"2016120120","V":2.3},
{"t":"2016120205","T":-5,"K":-13.1,"W":1.5,"H":100,"u":"2016120210","V":4.9},{"t":"2016120214","T":0,"K":0,"W":8.2,"H":62,"u":"2016120220","V":3.7},
{"t":"2016120305","T":-9,"K":-9,"W":1,"H":100,"u":"2016120310","V":3},{"t":"2016120314","T":-2,"K":-2,"W":5,"H":92,"u":"2016120320","V":2.3},
{"t":"2016120405","T":-7.6,"K":-7.6,"W":1,"H":100,"u":"2016120410","V":4},{"t":"2016120414","T":4,"K":4,"W":6.6,"H":90,"u":"2016120420","V":3},
{"t":"2016120505","T":-4,"K":-9,"W":1,"H":100,"u":"2016120510","V":3.3},{"t":"2016120514","T":1,"K":1,"W":5.5,"H":71,"u":"2016120520","V":2.5},
{"t":"2016120605","T":-5,"K":-7,"W":0.5,"H":100,"u":"2016120610","V":2.7},{"t":"2016120614","T":0.2,"K":0.2,"W":4.5,"H":81,"u":"2016120620","V":2},
{"t":"2016120705","T":-3.4,"K":-3.4,"W":0.5,"H":100,"u":"2016120710","V":2.3},{"t":"2016120714","T":0.5,"K":0.5,"W":3.8,"H":78,"u":"2016120720","V":1.7},
{"t":"2016120805","T":-3,"K":-3,"W":0.5,"H":100,"u":"2016120810","V":1.8},{"t":"2016120814","T":2.6,"K":2.6,"W":3,"H":100,"u":"2016120820","V":1.4},
{"t":"2016120905","T":-0.5,"K":-9.7,"W":1,"H":100,"u":"2016120910","V":3.3},{"t":"2016120914","T":3.2,"K":3.2,"W":5.5,"H":74,"u":"2016120920","V":2.5},
{"t":"2016121005","T":-8.2,"K":-8.2,"W":0.3,"H":100,"u":"2016121010","V":1.4},{"t":"2016121014","T":0.6,"K":0.6,"W":2.4,"H":72,"u":"2016121020","V":1.1},
{"t":"2016121105","T":-10,"K":-10,"W":0.3,"H":90,"u":"2016121110","V":1.2},{"t":"2016121114","T":-8,"K":-8,"W":2,"H":90,"u":"2016121120","V":0.9},
{"t":"2016121205","T":-14,"K":-14,"W":0,"H":90,"u":"2016121210","V":0},{"t":"2016121214","T":-12,"K":-12,"W":0,"H":90,"u":"2016121220","V":0},
{"t":"2016121305","T":-14.7,"K":-14.7,"W":0,"H":100,"u":"2016121310","V":0},{"t":"2016121314","T":-0.5,"K":-0.5,"W":0.2,"H":100,"u":"2016121320","V":0},
{"t":"2016121405","T":-2,"K":-2,"W":0.3,"H":100,"u":"2016121410","V":1.8},{"t":"2016121414","T":-1,"K":-1,"W":3,"H":100,"u":"2016121420","V":1.4},
{"t":"2016121505","T":-9.8,"K":-9.8,"W":0,"H":100,"u":"2016121510","V":0},{"t":"2016121514","T":-3,"K":-3,"W":0.5,"H":88,"u":"2016121520","V":0},
{"t":"2016121605","T":-6,"K":-6,"W":0,"H":100,"u":"2016121610","V":0},{"t":"2016121614","T":-0.3,"K":-0.3,"W":0,"H":100,"u":"2016121620","V":0},
{"t":"2016121705","T":-7.7,"K":-7.7,"W":0,"H":100,"u":"2016121710","V":0},{"t":"2016121714","T":-2,"K":-2,"W":0.3,"H":100,"u":"2016121720","V":0},
{"t":"2016121805","T":-5,"K":-5,"W":0,"H":100,"u":"2016121810","V":1.2},{"t":"2016121814","T":-0.2,"K":-0.2,"W":2,"H":100,"u":"2016121820","V":0.9},
{"t":"2016121905","T":-1,"K":-1,"W":0,"H":100,"u":"2016121910","V":0},{"t":"2016121914","T":5.3,"K":5.3,"W":0.5,"H":100,"u":"2016121920","V":0},
{"t":"2016122005","T":3,"K":3,"W":0.5,"H":100,"u":"2016122010","V":2.4},{"t":"2016122014","T":5.5,"K":5.5,"W":4,"H":100,"u":"2016122020","V":1.8},
{"t":"2016122105","T":-0.5,"K":-9.5,"W":2,"H":100,"u":"2016122110","V":4.8},{"t":"2016122114","T":1.5,"K":1.5,"W":8,"H":85,"u":"2016122120","V":3.6},
{"t":"2016122205","T":-2.5,"K":-13.7,"W":1.5,"H":98,"u":"2016122210","V":4.2},{"t":"2016122214","T":0,"K":0,"W":7,"H":78,"u":"2016122220","V":3.2},
{"t":"2016122305","T":-3.5,"K":-9,"W":1,"H":100,"u":"2016122310","V":3.3},{"t":"2016122314","T":-0.5,"K":-0.5,"W":5.5,"H":71,"u":"2016122320","V":2.5},
{"t":"2016122405","T":-5,"K":-12,"W":1,"H":100,"u":"2016122410","V":3.6},{"t":"2016122414","T":-0.3,"K":-0.3,"W":6,"H":74,"u":"2016122420","V":2.7},
{"t":"2016122505","T":-6.3,"K":-13.7,"W":1,"H":100,"u":"2016122510","V":3},{"t":"2016122514","T":1,"K":1,"W":5,"H":69,"u":"2016122520","V":2.3},
{"t":"2016122605","T":-3,"K":-8,"W":1,"H":100,"u":"2016122610","V":3.3},{"t":"2016122614","T":0.5,"K":0.5,"W":5.5,"H":82,"u":"2016122620","V":2.5},
{"t":"2016122705","T":-8.5,"K":-14.4,"W":1,"H":98,"u":"2016122710","V":4.4},{"t":"2016122714","T":-2.5,"K":-2.5,"W":7.3,"H":75,"u":"2016122720","V":3.3},
{"t":"2016122805","T":-4.5,"K":-10,"W":1,"H":100,"u":"2016122810","V":3},{"t":"2016122814","T":-1.5,"K":-1.5,"W":5,"H":87,"u":"2016122820","V":2.3},
{"t":"2016122905","T":-3,"K":-6,"W":1,"H":100,"u":"2016122906","V":2},{"t":"2016122907","T":0,"K":0,"W":1.5,"H":87,"u":"2016122908","V":1.5}
],
"d":[
{"s":"2016-07-01T00:00","D":15.6},{"s":"2016-07-02T00:00","D":15.0},{"s":"2016-07-03T00:00","D":12.4},{"s":"2016-07-04T00:00","D":13.0},{"s":"2016-07-05T00:00","D":12.9},{"s":"2016-07-06T00:00","D":13.3},{"s":"2016-07-07T00:00","D":10.5},{"s":"2016-07-08T00:00","D":10.9},{"s":"2016-07-09T00:00","D":12.7},{"s":"2016-07-10T00:00","D":13.7},{"s":"2016-07-11T00:00","D":12.6},{"s":"2016-07-12T00:00","D":14.8},{"s":"2016-07-13T00:00","D":14.6},{"s":"2016-07-14T00:00","D":15.2},{"s":"2016-07-15T00:00","D":13.1},{"s":"2016-07-16T00:00","D":12.5},{"s":"2016-07-17T00:00","D":11.6},{"s":"2016-07-18T00:00","D":11.5},{"s":"2016-07-19T00:00","D":11.6},{"s":"2016-07-20T00:00","D":13.6},{"s":"2016-07-21T00:00","D":17.4},{"s":"2016-07-22T00:00","D":19.8},{"s":"2016-07-23T00:00","D":19.4},{"s":"2016-07-24T00:00","D":19.7},{"s":"2016-07-25T00:00","D":18.3},{"s":"2016-07-26T00:00","D":19.8},{"s":"2016-07-27T00:00","D":17.8},{"s":"2016-07-28T00:00","D":16.1},{"s":"2016-07-29T00:00","D":15.1},{"s":"2016-07-30T00:00","D":16.3},{"s":"2016-07-31T00:00","D":15.5},
{"s":"2016-08-01T00:00","D":12.0},{"s":"2016-08-02T00:00","D":12.1},{"s":"2016-08-03T00:00","D":11.8},{"s":"2016-08-04T00:00","D":12.2},{"s":"2016-08-05T00:00","D":14.7},{"s":"2016-08-06T00:00","D":14.4},{"s":"2016-08-07T00:00","D":13.9},{"s":"2016-08-08T00:00","D":13.2},{"s":"2016-08-09T00:00","D":13.5},{"s":"2016-08-10T00:00","D":11.6},{"s":"2016-08-11T00:00","D":8.3},{"s":"2016-08-12T00:00","D":6.4},{"s":"2016-08-13T00:00","D":9.3},{"s":"2016-08-14T00:00","D":10.6},{"s":"2016-08-15T00:00","D":9.1},{"s":"2016-08-16T00:00","D":11.1},{"s":"2016-08-17T00:00","D":12.1},{"s":"2016-08-18T00:00","D":13.8},{"s":"2016-08-18T12:00","D":0},{"s":"2016-08-19T00:00","D":12.2},{"s":"2016-08-20T00:00","D":12.7},{"s":"2016-08-21T00:00","D":13.0},{"s":"2016-08-22T00:00","D":12.4},{"s":"2016-08-23T00:00","D":14.5},{"s":"2016-08-24T00:00","D":12.1},{"s":"2016-08-25T00:00","D":10.5},{"s":"2016-08-26T00:00","D":12.3},{"s":"2016-08-27T00:00","D":10.6},{"s":"2016-08-28T00:00","D":10.7},{"s":"2016-08-29T00:00","D":8.6},{"s":"2016-08-30T00:00","D":10.3},{"s":"2016-08-31T00:00","D":9.5},
{"s":"2016-09-01T00:00","D":14.6},{"s":"2016-09-02T00:00","D":12.2},{"s":"2016-09-03T00:00","D":9.3},{"s":"2016-09-04T00:00","D":9.8},{"s":"2016-09-05T00:00","D":9.6},{"s":"2016-09-06T00:00","D":6.9},{"s":"2016-09-07T00:00","D":10.3},{"s":"2016-09-08T00:00","D":10.9},{"s":"2016-09-09T00:00","D":10.1},{"s":"2016-09-10T00:00","D":12.2},{"s":"2016-09-11T00:00","D":13.8},{"s":"2016-09-12T00:00","D":12.0},{"s":"2016-09-13T00:00","D":10.1},{"s":"2016-09-14T00:00","D":11.2},{"s":"2016-09-15T00:00","D":10.6},{"s":"2016-09-16T00:00","D":10.5},{"s":"2016-09-17T00:00","D":9.7},{"s":"2016-09-18T00:00","D":8.8},{"s":"2016-09-19T00:00","D":12.6},{"s":"2016-09-20T00:00","D":12.4},{"s":"2016-09-21T00:00","D":13.6},{"s":"2016-09-22T00:00","D":12.1},{"s":"2016-09-23T00:00","D":11.2},{"s":"2016-09-24T00:00","D":8.7},{"s":"2016-09-25T00:00","D":8.5},{"s":"2016-09-26T00:00","D":10.9},{"s":"2016-09-27T00:00","D":11.3},{"s":"2016-09-28T00:00","D":8.8},{"s":"2016-09-29T00:00","D":9.7},{"s":"2016-09-30T00:00","D":5.4},
{"s":"2016-10-01T00:00","D":5.6},{"s":"2016-10-02T00:00","D":5.1},{"s":"2016-10-03T00:00","D":3.5},{"s":"2016-10-04T00:00","D":3.1},{"s":"2016-10-05T00:00","D":2.3},{"s":"2016-10-06T00:00","D":1.8},{"s":"2016-10-07T00:00","D":4.7},{"s":"2016-10-08T00:00","D":5.5},{"s":"2016-10-09T00:00","D":3.0},{"s":"2016-10-10T00:00","D":3.1},{"s":"2016-10-11T00:00","D":2.0},{"s":"2016-10-12T00:00","D":1.1},{"s":"2016-10-13T00:00","D":-3.0},{"s":"2016-10-14T00:00","D":-3.5},{"s":"2016-10-15T00:00","D":-3.1},{"s":"2016-10-16T00:00","D":0.3},{"s":"2016-10-17T00:00","D":1.5},{"s":"2016-10-18T00:00","D":2.2},{"s":"2016-10-19T00:00","D":4.5},{"s":"2016-10-20T00:00","D":4.4},{"s":"2016-10-21T00:00","D":3.6},{"s":"2016-10-22T00:00","D":1.3},{"s":"2016-10-23T00:00","D":-0.3},{"s":"2016-10-24T00:00","D":-1.3},{"s":"2016-10-25T00:00","D":1.1},{"s":"2016-10-26T00:00","D":1.7},{"s":"2016-10-27T00:00","D":0.2},{"s":"2016-10-28T00:00","D":1.7},{"s":"2016-10-29T00:00","D":2.1},{"s":"2016-10-30T00:00","D":2.7},{"s":"2016-10-31T00:00","D":1.0},
{"s":"2016-11-01T00:00","D":0.1},{"s":"2016-11-02T00:00","D":-0.1},{"s":"2016-11-03T00:00","D":-1.9},{"s":"2016-11-04T00:00","D":-3.3},{"s":"2016-11-05T00:00","D":-4.2},{"s":"2016-11-06T00:00","D":-7.6},{"s":"2016-11-07T00:00","D":-9.2},{"s":"2016-11-08T00:00","D":-10.3},{"s":"2016-11-09T00:00","D":-9.2},{"s":"2016-11-10T00:00","D":-6.8},{"s":"2016-11-11T00:00","D":-7.1},{"s":"2016-11-12T00:00","D":-8.1},{"s":"2016-11-13T00:00","D":-4.6},{"s":"2016-11-14T00:00","D":-5.7},{"s":"2016-11-15T00:00","D":-3.2},{"s":"2016-11-16T00:00","D":0.5},{"s":"2016-11-17T00:00","D":-0.4},{"s":"2016-11-18T00:00","D":-0.6},{"s":"2016-11-19T00:00","D":-3.5},{"s":"2016-11-20T00:00","D":-1.5},{"s":"2016-11-21T00:00","D":-3.0},{"s":"2016-11-22T00:00","D":-0.5},{"s":"2016-11-23T00:00","D":-1.9},{"s":"2016-11-24T00:00","D":-1.5},{"s":"2016-11-25T00:00","D":-3.2},{"s":"2016-11-26T00:00","D":-0.9},{"s":"2016-11-27T00:00","D":0.9},{"s":"2016-11-28T00:00","D":-3.2},{"s":"2016-11-29T00:00","D":-1.3},{"s":"2016-11-30T00:00","D":1.1},
{"s":"2016-12-01T00:00","D":-1.1},{"s":"2016-12-02T00:00","D":-2.4},{"s":"2016-12-03T00:00","D":-1.6},{"s":"2016-12-04T00:00","D":-6.9},{"s":"2016-12-05T00:00","D":-1.0},{"s":"2016-12-06T00:00","D":-0.1},{"s":"2016-12-07T00:00","D":-3.0},{"s":"2016-12-08T00:00","D":-1.3},{"s":"2016-12-09T00:00","D":-0.1},{"s":"2016-12-10T00:00","D":0.4},{"s":"2016-12-11T00:00","D":-8.1},{"s":"2016-12-12T00:00","D":-11.3},{"s":"2016-12-13T00:00","D":-13.5},{"s":"2016-12-14T00:00","D":-4.4},{"s":"2016-12-15T00:00","D":-3.2},{"s":"2016-12-16T00:00","D":-6.0},{"s":"2016-12-17T00:00","D":-2.8},{"s":"2016-12-18T00:00","D":-4.6},{"s":"2016-12-19T00:00","D":-0.2},{"s":"2016-12-20T00:00","D":4.8},{"s":"2016-12-21T00:00","D":1.2},{"s":"2016-12-22T00:00","D":-0.2},{"s":"2016-12-23T00:00","D":-1.7},{"s":"2016-12-24T00:00","D":-2.4},{"s":"2016-12-25T00:00","D":-2.7},{"s":"2016-12-26T00:00","D":-0.9},{"s":"2016-12-27T00:00","D":-3.5},{"s":"2016-12-28T00:00","D":-3.5},{"s":"2016-12-29T00:00","D":-2.8}
]},
"data":{"name":"m","format":{"parse":{"t":"date:'%Y%m%d%H'","u":"date:'%Y%m%d%H'"}}},
"layer":[
{"mark":{"type":"line","color":"#000000","strokeWidth":2.5,"strokeJoin":"round","clip":true},
 "encoding":{
  "x":{"field":"t","type":"temporal","scale":{"domain":[{"year":2016,"month":7,"date":1},{"year":2016,"month":12,"date":29,"hours":8}]},
   "axis":{"orient":"top","tickCount":{"interval":"day","step":2},"grid":true,"gridColor":"#808080","gridWidth":1,"labels":false,"ticks":false,"domain":false,"title":null}},
  "y":{"field":"W","type":"quantitative","scale":{"domain":[-20,30],"nice":false,"zero":false},
   "axis":{"orient":"left","values":[-20,-19,-18,-17,-16,-15,-14,-13,-12,-11,-10,-9,-8,-7,-6,-5,-4,-3,-2,-1,0,1,2,3,4,5,6,7,8,9,10,11,12,13,14,15,16,17,18,19,20,21,22,23,24,25,26,27,28,29,30],"grid":true,"gridColor":"#858585","gridWidth":1,"labels":false,"ticks":false,"domain":false,"title":null}}}},
{"mark":{"type":"line","color":"#000000","strokeWidth":2.5,"strokeJoin":"round","clip":true},
 "encoding":{
  "x":{"field":"u","type":"temporal","scale":{"domain":[{"year":2016,"month":7,"date":1},{"year":2016,"month":12,"date":29,"hours":8}]},"axis":null},
  "y":{"field":"V","type":"quantitative","scale":{"domain":[-20,30],"nice":false,"zero":false},"axis":null}}},
{"data":{"values":[{}]},"mark":{"type":"rule","color":"#000000","strokeWidth":2},
 "encoding":{"y":{"datum":0,"type":"quantitative","scale":{"domain":[-20,30],"nice":false,"zero":false},"axis":null}}},
{"mark":{"type":"line","color":"#FF0000","strokeWidth":3.5,"strokeJoin":"round","clip":true},
 "encoding":{
  "x":{"field":"t","type":"temporal","scale":{"domain":[{"year":2016,"month":7,"date":1},{"year":2016,"month":12,"date":29,"hours":8}]},
   "axis":{"orient":"bottom","values":[{"year":2016,"month":7,"date":1},{"year":2016,"month":7,"date":8},{"year":2016,"month":7,"date":15},{"year":2016,"month":7,"date":22},{"year":2016,"month":7,"date":29},{"year":2016,"month":8,"date":5},{"year":2016,"month":8,"date":12},{"year":2016,"month":8,"date":19},{"year":2016,"month":8,"date":26},{"year":2016,"month":9,"date":2},{"year":2016,"month":9,"date":9},{"year":2016,"month":9,"date":16},{"year":2016,"month":9,"date":23},{"year":2016,"month":9,"date":30},{"year":2016,"month":10,"date":7},{"year":2016,"month":10,"date":14},{"year":2016,"month":10,"date":21},{"year":2016,"month":10,"date":28},{"year":2016,"month":11,"date":4},{"year":2016,"month":11,"date":11},{"year":2016,"month":11,"date":18},{"year":2016,"month":11,"date":25},{"year":2016,"month":12,"date":2},{"year":2016,"month":12,"date":9},{"year":2016,"month":12,"date":16},{"year":2016,"month":12,"date":23}],
   "format":"%Y-%m-%d %H:%M","labelAngle":270,"labelAlign":"right","labelBaseline":"middle","labelColor":"#8C8C8C","labelFontSize":21,"labelPadding":18,"labelOverlap":false,"labelFlush":false,"grid":false,"ticks":false,"domain":false,"title":null}},
  "y":{"field":"K","type":"quantitative","scale":{"domain":[-20,30],"nice":false,"zero":false},
   "axis":{"orient":"left","values":[-20,-15,-10,-5,0,5,10,15,20,25,30],"labelExpr":"'' + datum.value","grid":true,"gridColor":"#969696","gridWidth":5,"domain":true,"domainColor":"#000000","domainWidth":2,"ticks":true,"tickColor":"#000000","tickSize":8,"tickWidth":1.5,"labelFontSize":26,"labelPadding":20,"labelColor":{"expr":"datum.value < 0 ? '#FF0000' : '#000000'"},"title":null}}}},
{"mark":{"type":"line","color":"#0000FF","strokeWidth":6,"strokeJoin":"round","clip":true},
 "encoding":{
  "x":{"field":"t","type":"temporal","scale":{"domain":[{"year":2016,"month":7,"date":1},{"year":2016,"month":12,"date":29,"hours":8}]},"axis":null},
  "y":{"field":"T","type":"quantitative","scale":{"domain":[-20,30],"nice":false,"zero":false},"axis":null}}},
{"mark":{"type":"line","color":"#FFFF00","strokeWidth":1.5,"strokeJoin":"round","clip":true},
 "encoding":{
  "x":{"field":"t","type":"temporal","scale":{"domain":[{"year":2016,"month":7,"date":1},{"year":2016,"month":12,"date":29,"hours":8}]},"axis":null},
  "y":{"field":"H","type":"quantitative","scale":{"domain":[0,100],"nice":false,"zero":false},
   "axis":{"orient":"right","values":[0,10,20,30,40,50,60,70,80,90,100],"grid":false,"domain":true,"domainColor":"#33CCCC","domainWidth":2,"ticks":true,"tickColor":"#33CCCC","tickSize":8,"tickWidth":1.5,"labelColor":"#33CCCC","labelFontSize":26,"labelPadding":12,"title":"Rh","titleAngle":0,"titleX":11,"titleY":-53,"titleAlign":"center","titleBaseline":"middle","titleFontSize":26,"titleFontWeight":"normal","titleColor":"#000000"}}}},
{"data":{"name":"d"},
 "mark":{"type":"point","filled":true,"size":2809,"strokeWidth":2,"opacity":1},
 "encoding":{
  "x":{"field":"s","type":"temporal","scale":{"domain":[{"year":2016,"month":7,"date":1},{"year":2016,"month":12,"date":29,"hours":8}]},"axis":null},
  "y":{"field":"D","type":"quantitative","scale":{"domain":[-20,30],"nice":false,"zero":false},"axis":null},
  "fill":{"datum":"Dygns medel °C","type":"nominal","scale":{"domain":["Vindhsdtighet m/s","Kyleffekt °C","Temperatur °C","Dygns medel °C","Luftfuktighet %"],"range":["#000000","#FF0000","#0000FF","#FF0000","#FFFF00"]},"legend":{"orient":"none","legendX":101,"legendY":-92,"title":null}},
  "stroke":{"datum":"Dygns medel °C","type":"nominal","scale":{"domain":["Vindhsdtighet m/s","Kyleffekt °C","Temperatur °C","Dygns medel °C","Luftfuktighet %"],"range":["transparent","transparent","transparent","#000000","transparent"]},"legend":{"orient":"none","legendX":101,"legendY":-92,"title":null}},
  "shape":{"datum":"Dygns medel °C","type":"nominal","scale":{"domain":["Vindhsdtighet m/s","Kyleffekt °C","Temperatur °C","Dygns medel °C","Luftfuktighet %"],"range":["M-1,-0.04L1,-0.04L1,0.04L-1,0.04Z","M-1,-0.05L1,-0.05L1,0.05L-1,0.05Z","M-1,-0.1L1,-0.1L1,0.1L-1,0.1Z","M-0.26,0A0.26,0.26,0,1,0,0.26,0A0.26,0.26,0,1,0,-0.26,0Z","M-1,-0.025L1,-0.025L1,0.025L-1,0.025Z"]},"legend":{"orient":"none","legendX":101,"legendY":-92,"title":null}}}}
],
"resolve":{"scale":{"y":"independent"},"axis":{"x":"independent","y":"independent"}}
}
